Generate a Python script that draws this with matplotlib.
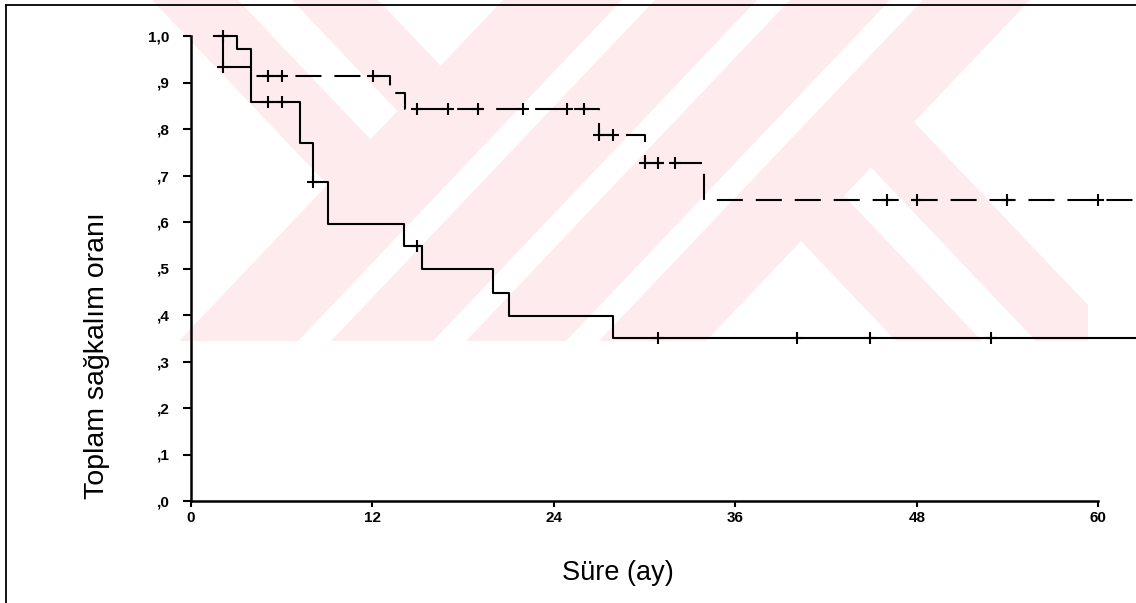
import matplotlib
matplotlib.use("Agg")
import matplotlib.pyplot as plt
import numpy as np

# Kaplan-Meier estimates: step start times (months) and survival after each step
solid_times = [1.5, 3.04, 4.0, 7.2, 8.08, 9.08, 14.09, 15.25, 20.0, 21.05, 27.93]
solid_surv = [1.0, 0.971, 0.859, 0.769, 0.687, 0.596, 0.548, 0.500, 0.448, 0.398, 0.351]
solid_censor = [2.1, 5.07, 6.0, 8.08, 14.97, 30.9, 40.06, 44.9, 52.9]

dashed_times = [1.5, 4.0, 13.16, 14.13, 26.98, 30.03, 33.93]
dashed_surv = [0.933, 0.915, 0.877, 0.843, 0.787, 0.726, 0.647]
dashed_censor = [2.1, 5.07, 6.0, 12.04, 14.97, 17.0, 18.95, 21.98, 24.9, 26.0,
                 26.98, 27.93, 30.03, 30.9, 32.0, 46.0, 48.04, 54.0, 59.97]

follow_up_end = 62.5
x_ticks = [0, 12, 24, 36, 48, 60]
y_ticks = [0.0, 0.1, 0.2, 0.3, 0.4, 0.5, 0.6, 0.7, 0.8, 0.9, 1.0]
y_tick_labels = [",0", ",1", ",2", ",3", ",4", ",5", ",6", ",7", ",8", ",9", "1,0"]
x_label = "Süre (ay)"
y_label = "Toplam sağkalım oranı"

plt.rcParams["font.family"] = ["Liberation Sans", "DejaVu Sans"]

W, H = 1136, 603
fig = plt.figure(figsize=(W / 100, H / 100), dpi=100)
fig.patch.set_facecolor("white")

# ---- background stamp: diagonal pink bands, in pixel coordinates ----
bg = fig.add_axes([0, 0, 1, 1], zorder=0)
bg.set_xlim(0, W)
bg.set_ylim(H, 0)
bg.axis("off")
pink = "#fdebee"
K = 0.95  # band slope (dx per dy)
stamp_box = [(148, 0), (1088, 0), (1088, 341), (148, 341)]


def clip_half(poly, a, b, c):
    """Keep the part of a convex polygon with a*x + b*y <= c."""
    out = []
    n = len(poly)
    for i in range(n):
        p, q = poly[i], poly[(i + 1) % n]
        fp = a * p[0] + b * p[1] - c
        fq = a * q[0] + b * q[1] - c
        if fp <= 0:
            out.append(p)
        if fp * fq < 0:
            t = fp / (fp - fq)
            out.append((p[0] + t * (q[0] - p[0]), p[1] + t * (q[1] - p[1])))
    return out


def band(region, along, lo, hi):
    # along: +1 for "/" bands (x + K*y), -1 for "\" bands (x - K*y)
    poly = list(stamp_box)
    poly = clip_half(poly, -1, -along * K, -lo)
    poly = clip_half(poly, 1, along * K, hi)
    for a, b, c in region:
        poly = clip_half(poly, a, b, c)
    return poly


left_zone = [(1, K, 503)]
mid_zone = [(-1, -K, -503), (1, K, 1030)]
right_zone = [(-1, -K, -1030)]
stamp = (
    [band(left_zone, -1, lo, hi) for lo, hi in [(152, 238), (292, 378)]]
    + [band(mid_zone, 1, lo, hi) for lo, hi in
       [(503, 622), (655, 757), (790, 890), (923, 1030)]]
    + [band(right_zone, -1, lo, hi) for lo, hi in [(572, 658), (712, 798)]]
)
for poly in stamp:
    if len(poly) >= 3:
        bg.fill(*zip(*poly), color=pink, lw=0)

# page frame
bg.plot([6, 6], [5, H], color="black", lw=1.3)
bg.plot([6, W], [5, 5], color="black", lw=1.3)

# ---- survival plot ----
ax = fig.add_axes([191 / W, (H - 501) / H, (W - 191) / W, 465 / H], zorder=1)
ax.patch.set_alpha(0)
ax.set_xlim(0, follow_up_end)
ax.set_ylim(0, 1.0)


def km_path(times, surv):
    t = list(times) + [follow_up_end]
    s = list(surv) + [surv[-1]]
    return t, s


def level_at(times, surv, t):
    i = np.searchsorted(times, t, side="right") - 1
    return np.asarray(surv)[np.clip(i, 0, len(surv) - 1)]


lw = 1.5
t, s = km_path(solid_times, solid_surv)
ax.plot(t, s, drawstyle="steps-post", color="black", lw=lw, clip_on=False)
t, s = km_path(dashed_times, dashed_surv)
ax.plot(t, s, drawstyle="steps-post", color="black", lw=lw, clip_on=False,
        linestyle=(-6.0, (12.5, 6.2)))

# join between the two groups at the first censored observation
tc = dashed_censor[0]
ax.plot([tc, tc], [level_at(dashed_times, dashed_surv, tc),
                   level_at(solid_times, solid_surv, tc)],
        color="black", lw=lw, clip_on=False)

for times, surv, cens in [(solid_times, solid_surv, solid_censor),
                          (dashed_times, dashed_surv, dashed_censor)]:
    ax.plot(cens, level_at(times, surv, np.array(cens)), linestyle="none",
            marker="+", markersize=9, mew=1.5, color="black", clip_on=False)

for side in ["top", "right"]:
    ax.spines[side].set_visible(False)
ax.spines["left"].set_linewidth(1.8)
ax.spines["bottom"].set_linewidth(1.8)
ax.spines["bottom"].set_bounds(0, 60)

ax.set_xticks(x_ticks)
ax.set_xticklabels([str(v) for v in x_ticks])
ax.set_yticks(y_ticks)
ax.set_yticklabels(y_tick_labels)
ax.tick_params(axis="y", length=6, width=1.5, pad=9.5, labelsize=11)
ax.tick_params(axis="x", length=4, width=1.5, pad=3.5, labelsize=11)
for lab in ax.get_xticklabels() + ax.get_yticklabels():
    lab.set_fontweight("bold")

fig.text(618 / W, 1 - 573 / H, x_label, ha="center", va="center", fontsize=19.5)
fig.text(97 / W, 1 - 356 / H, y_label, ha="center", va="center", fontsize=20.5,
         rotation=90)

fig.savefig("out.png", dpi=100)
